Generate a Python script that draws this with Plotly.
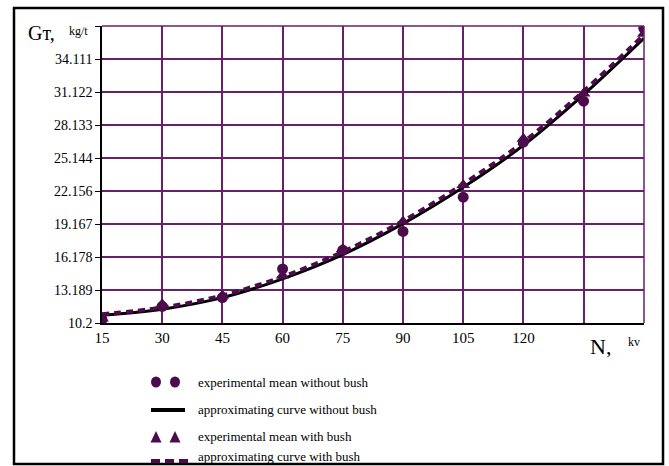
import plotly.graph_objects as go

# ---- data ----
n_kv = [15, 30, 45, 60, 75, 90, 105, 120, 135, 150]
mean_without_bush = [10.5, 11.7, 12.5, 15.1, 16.8, 18.5, 21.6, 26.6, 30.3, 36.9]
mean_with_bush = [10.6, 11.9, 12.7, 14.5, 16.9, 19.4, 22.7, 26.9, 31.0, 36.4]
curve_without_bush = [10.9, 11.45, 12.5, 14.2, 16.4, 19.2, 22.5, 26.3, 30.9, 36.0]
curve_with_bush = [11.0, 11.6, 12.7, 14.4, 16.65, 19.45, 22.8, 26.6, 31.2, 36.3]

y_tick_vals = [10.2, 13.189, 16.178, 19.167, 22.156, 25.144, 28.133, 31.122, 34.111, 37.1]
y_tick_text = ["10.2", "13.189", "16.178", "19.167", "22.156", "25.144", "28.133", "31.122", "34.111", ""]
x_tick_vals = [15, 30, 45, 60, 75, 90, 105, 120, 135, 150]
x_tick_text = ["15", "30", "45", "60", "75", "90", "105", "120", "", ""]

legend_labels = [
    "experimental mean without bush",
    "approximating curve without bush",
    "experimental mean with bush",
    "approximating curve with bush",
]

PURPLE = "#4c0c4c"
GRID = "#6a1f6a"
FONT = "Liberation Serif"

W, H = 669, 466
L, R, T, B = 102, 644, 26, 323  # plot area in pixels


def px(x):
    return (x - L) / (R - L)


def py(y):
    return (B - y) / (B - T)


fig = go.Figure()
fig.add_trace(go.Scatter(x=n_kv, y=curve_without_bush, mode="lines", line=dict(color="black", width=3, shape="spline"),
                         name=legend_labels[1], showlegend=False))
fig.add_trace(go.Scatter(x=n_kv, y=curve_with_bush, mode="lines",
                         line=dict(color=PURPLE, width=4, dash="7px,5px", shape="spline"),
                         name=legend_labels[3], showlegend=False))
fig.add_trace(go.Scatter(x=n_kv, y=mean_without_bush, mode="markers",
                         marker=dict(symbol="circle", size=11, color=PURPLE),
                         name=legend_labels[0], showlegend=False))
fig.add_trace(go.Scatter(x=n_kv, y=mean_with_bush, mode="markers",
                         marker=dict(symbol="triangle-up", size=12, color=PURPLE),
                         name=legend_labels[2], showlegend=False))

shapes = []
# outer border
shapes.append(dict(type="rect", xref="paper", yref="paper", x0=px(14), x1=px(663), y0=py(464), y1=py(8),
                   line=dict(color="black", width=2.5), layer="below"))
# top and right plot borders (purple)
shapes.append(dict(type="line", xref="paper", yref="paper", x0=0, x1=1, y0=1, y1=1, line=dict(color=GRID, width=1.5)))
shapes.append(dict(type="line", xref="paper", yref="paper", x0=1, x1=1, y0=0, y1=1, line=dict(color=GRID, width=1.5)))

# custom legend symbols
for cx in (156, 175):
    shapes.append(dict(type="circle", xref="paper", yref="paper", xsizemode="pixel", ysizemode="pixel",
                       xanchor=px(cx), yanchor=py(382), x0=-5, x1=5, y0=-5.5, y1=5.5,
                       fillcolor=PURPLE, line=dict(color=PURPLE, width=0)))
    shapes.append(dict(type="path", xref="paper", yref="paper", xsizemode="pixel", ysizemode="pixel",
                       xanchor=px(cx), yanchor=py(437), path="M -5.5 -5.5 L 5.5 -5.5 L 0 6 Z",
                       fillcolor=PURPLE, line=dict(color=PURPLE, width=0)))
shapes.append(dict(type="line", xref="paper", yref="paper", x0=px(151), x1=px(185), y0=py(410), y1=py(410),
                   line=dict(color="black", width=4)))
shapes.append(dict(type="line", xref="paper", yref="paper", x0=px(151), x1=px(188), y0=py(461), y1=py(461),
                   line=dict(color=PURPLE, width=4, dash="9px,5px")))

annotations = []
for label, ytxt in zip(legend_labels, (382, 409, 436, 456)):
    annotations.append(dict(text=label, xref="paper", yref="paper", x=px(196), y=py(ytxt), xanchor="left",
                            yanchor="middle", showarrow=False, font=dict(family=FONT, size=13, color="black")))
annotations += [
    dict(text="Gт,", xref="paper", yref="paper", x=px(26), y=py(33), xanchor="left", yanchor="middle",
         showarrow=False, font=dict(family=FONT, size=20, color="black")),
    dict(text="kg/t", xref="paper", yref="paper", x=px(67), y=py(31), xanchor="left", yanchor="middle",
         showarrow=False, font=dict(family=FONT, size=12, color="black")),
    dict(text="N,", xref="paper", yref="paper", x=px(588), y=py(346), xanchor="left", yanchor="middle",
         showarrow=False, font=dict(family=FONT, size=22, color="black")),
    dict(text="kv", xref="paper", yref="paper", x=px(626), y=py(342), xanchor="left", yanchor="middle",
         showarrow=False, font=dict(family=FONT, size=12, color="black")),
]

fig.update_layout(
    width=W, height=H,
    margin=dict(l=L, r=W - R, t=T, b=H - B, pad=0),
    paper_bgcolor="white", plot_bgcolor="white",
    showlegend=False,
    shapes=shapes, annotations=annotations,
    font=dict(family=FONT, size=14, color="black"),
)
fig.update_xaxes(range=[15, 150.05], tickvals=x_tick_vals, ticktext=x_tick_text, showgrid=True,
                 gridcolor=GRID, gridwidth=1.5, showline=True, linecolor="black", linewidth=2,
                 ticks="", zeroline=False, tickfont=dict(family=FONT, size=15))
fig.update_yaxes(range=[10.2, 37.11], tickvals=y_tick_vals, ticktext=y_tick_text, showgrid=True,
                 gridcolor=GRID, gridwidth=1.5, showline=True, linecolor="black", linewidth=1.5,
                 ticks="outside", ticklen=5, tickcolor="black", zeroline=False,
                 tickfont=dict(family=FONT, size=14))

fig.write_html("out.html", config={"displayModeBar": False},
               post_script="document.body.style.margin='0';document.body.style.overflow='hidden';")
